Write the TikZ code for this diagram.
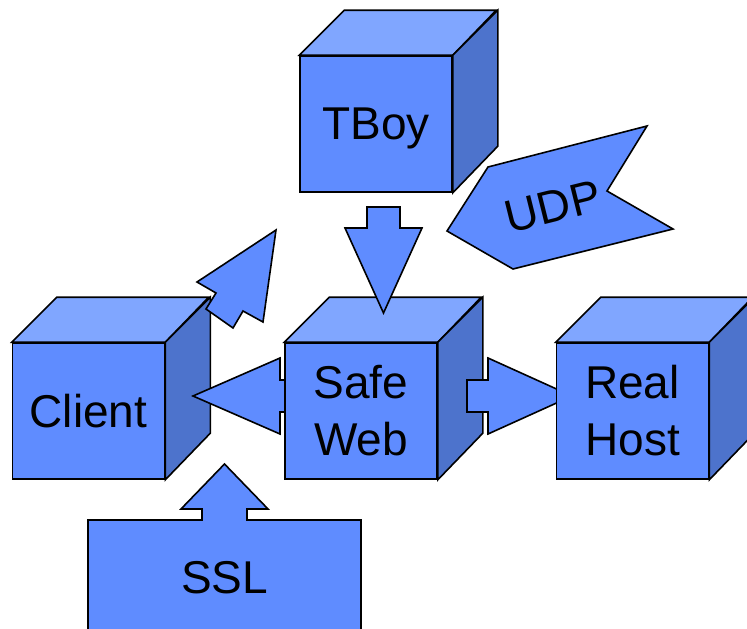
\documentclass[tikz,border=0pt]{standalone}
\usepackage{fontspec}
\setmainfont{Liberation Sans}
\definecolor{frontc}{RGB}{95,140,255}
\definecolor{topc}{RGB}{128,166,255}
\definecolor{sidec}{RGB}{77,115,204}
\newcommand{\cubefaces}[1]{%
  \draw[topf] (#1.north west) -- ++(45,-45) -- ++(152,0) -- (#1.north east) -- cycle;
  \draw[sidef] (#1.north east) -- ++(45,-45) -- ++(0,136) -- (#1.south east) -- cycle;}
\begin{document}
\begin{tikzpicture}[x=1pt,y=-1pt,
  edge/.style={draw=black,line width=1.6pt},
  frontf/.style={edge,fill=frontc,minimum width=152pt,minimum height=136pt,inner sep=0pt,
    font=\fontsize{46}{57}\selectfont,align=center},
  topf/.style={edge,fill=topc},
  sidef/.style={edge,fill=sidec},
  blockarrow/.style={edge,fill=frontc},
  lbl/.style={font=\fontsize{46}{57}\selectfont,inner sep=0pt}]
\useasboundingbox (0,0) rectangle (747,629);
\clip (0,0) rectangle (747,629);
% TBoy
\node[frontf,text depth=0pt] (tboy) at (376,124) {TBoy};
\cubefaces{tboy}
% UDP
\draw[blockarrow] (488,167) -- (647,126) -- (607,191) -- (673,229) -- (513,269) -- (447,231) -- cycle;
\node[lbl,rotate=14] (udp) at (553,207) {UDP};
% Client
\node[frontf] (client) at (88.5,411) {Client};
\cubefaces{client}
% arrow up-right from client
\draw[blockarrow] (276,230) -- (197,282) -- (216,293) -- (206,309) -- (233,328) -- (243,311) -- (263,322) -- cycle;
% arrow left into client
\draw[blockarrow] (193,396) -- (280,358) -- (280,380) -- (292,380) -- (292,412) -- (280,412) -- (280,434) -- cycle;
% Safe Web
\node[frontf] (safe) at (361,411) {Safe\\Web};
\cubefaces{safe}
% arrow down from TBoy
\draw[blockarrow] (367,207) -- (400,207) -- (400,228) -- (422,228) -- (383.5,313) -- (345,228) -- (367,228) -- cycle;
% arrow right to Real Host
\draw[blockarrow] (467,380) -- (488,380) -- (488,358) -- (572,396) -- (488,434) -- (488,412) -- (467,412) -- cycle;
% Real Host
\node[frontf] (real) at (632.5,411) {Real\\Host};
\cubefaces{real}
% SSL
\draw[blockarrow] (88,645) -- (88,520) -- (202,520) -- (202,509) -- (181,509) -- (224.5,464) -- (268,509) -- (247,509) -- (247,520) -- (361,520) -- (361,645) -- cycle;
\node[lbl,anchor=base] (ssl) at (224.5,593) {SSL};
\end{tikzpicture}
\end{document}
